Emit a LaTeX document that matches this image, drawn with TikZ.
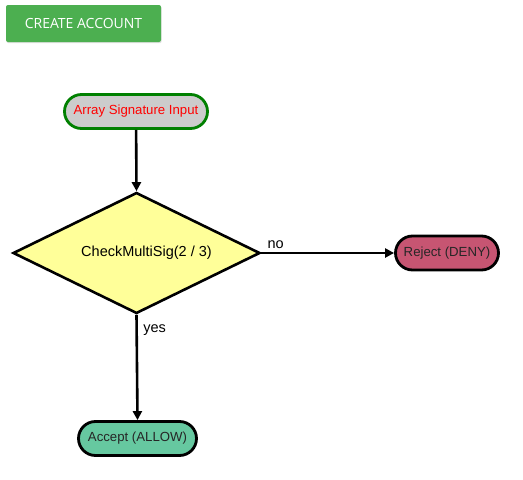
\documentclass[tikz,border=0pt]{standalone}
\usepackage{fontspec}
\setmainfont{Liberation Sans}
\newfontfamily\btnfont{Open Sans}
\usetikzlibrary{shapes.geometric,arrows.meta,shadows}
\definecolor{btngreen}{HTML}{4CAF50}
\definecolor{startgray}{HTML}{CCCCCC}
\definecolor{startborder}{HTML}{008000}
\definecolor{decyellow}{HTML}{FFFF99}
\definecolor{denyrose}{HTML}{C75572}
\definecolor{allowgreen}{HTML}{66C8A0}
\tikzset{
  btn/.style={draw=none, fill=btngreen, rounded corners=2pt, minimum width=155pt,
    minimum height=37pt, text=white, font=\btnfont\fontsize{14}{16}\selectfont,
    drop shadow={opacity=0.25, shadow xshift=0.6pt, shadow yshift=-1.2pt}},
  terminal/.style={rectangle, rounded corners=17pt, draw=black, line width=2.8pt,
    minimum height=34pt, inner xsep=6pt, font=\fontsize{13.2}{15}\selectfont},
  decision/.style={diamond, aspect=2, draw=black, line width=2.6pt, fill=decyellow,
    inner sep=0pt, minimum width=247pt, minimum height=121pt,
    font=\fontsize{14.5}{17}\selectfont},
  flow/.style={-{Triangle[length=9pt,width=9pt]}, line width=2.6pt},
  branch/.style={font=\fontsize{14.5}{17}\selectfont, inner sep=0pt}
}
\begin{document}
\begin{tikzpicture}[x=1pt,y=-1pt]
        \useasboundingbox (0,0) rectangle (523,480);
        % button
        \node[btn] (create) at (83.5,23.5) {CREATE ACCOUNT};
        % flow nodes
        \node[terminal, fill=startgray, draw=startborder, text=red, minimum width=143pt] (input) at (136,111.5) {Array Signature Input};
        \node[decision] (check) at (136.5,253) {\hspace*{20pt}CheckMultiSig(2 / 3)};
        \node[terminal, fill=denyrose, text=black!85, minimum width=103pt] (deny) at (447,253) {Reject (DENY)};
        \node[terminal, fill=allowgreen, text=black!85, minimum width=118pt] (allow) at (137.5,438.5) {Accept (ALLOW)};
        % connectors
        \draw[flow] (input) -- (check.north);
        \draw[flow] (check.east) -- (deny.west) node[branch, at start, anchor=west, xshift=5pt, yshift=8.5pt] {no};
        \draw[flow] (check.south) -- (allow.north) node[branch, at start, anchor=west, xshift=5.5pt, yshift=-15.5pt] {yes};
      \end{tikzpicture}
\end{document}
